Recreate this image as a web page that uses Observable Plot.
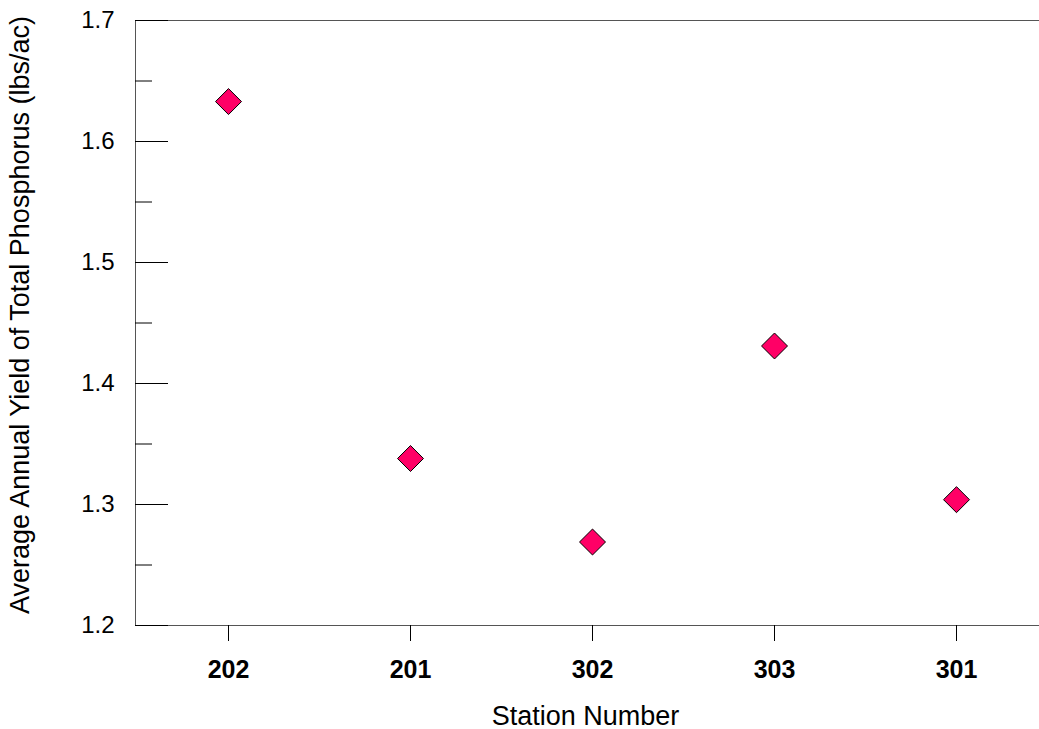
<!DOCTYPE html>
<html>
<head>
<meta charset="utf-8">
<script src="https://cdn.jsdelivr.net/npm/d3@7"></script>
<script src="https://cdn.jsdelivr.net/npm/@observablehq/plot@0.6"></script>
<style>
  html, body { margin: 0; padding: 0; background: #fff; }
</style>
</head>
<body>
<div id="chart"></div>
<script>
// Average annual total phosphorus yield by monitoring station
const stations = ["202", "201", "302", "303", "301"];
const yields = [1.633, 1.338, 1.269, 1.431, 1.304];
const majorTicks = [1.2, 1.3, 1.4, 1.5, 1.6, 1.7];
const minorTicks = [1.25, 1.35, 1.45, 1.55, 1.65];
const xTitle = "Station Number";
const yTitle = "Average Annual Yield of Total Phosphorus (lbs/ac)";

const rows = stations.map((s, i) => ({station: s, tp: yields[i]}));

const chart = Plot.plot({
  width: 1039,
  height: 729,
  marginTop: 20,
  marginBottom: 104,
  marginLeft: 135,
  marginRight: -10,
  style: {
    fontFamily: "'Liberation Sans', Arial, Helvetica, sans-serif",
    fontSize: "24px",
    color: "#000",
    background: "#fff"
  },
  x: {type: "point", domain: stations, padding: 0.5},
  y: {domain: [1.2, 1.7]},
  marks: [
    Plot.frame({stroke: "#555", strokeWidth: 1}),
    // inward major and minor ticks on the value axis
    Plot.axisY({ticks: majorTicks, tickSize: -33, tickFormat: () => "", label: null, stroke: "#000"}),
    Plot.axisY({ticks: minorTicks, tickSize: -17, tickFormat: () => "", label: null, stroke: "#000"}),
    Plot.axisY({ticks: majorTicks, tickSize: 0, tickPadding: 21, tickFormat: d3.format(".1f"), label: null, fontSize: 24}),
    // station axis with outward ticks
    Plot.axisX({tickSize: 16, tickPadding: 19, label: null, fontSize: 25, fontWeight: "bold", stroke: "#000"}),
    Plot.text([xTitle], {frameAnchor: "bottom", dx: -7, dy: 99, fontSize: 27, fill: "#000"}),
    Plot.text([yTitle], {frameAnchor: "left", textAnchor: "middle", rotate: -90, dx: -115, dy: -8, fontSize: 27, fill: "#000"}),
    Plot.dot(rows, {x: "station", y: "tp", symbol: "diamond2", r: 11.7, fill: "#ff0066", stroke: "#000", strokeWidth: 1})
  ]
});

document.getElementById("chart").append(chart);
</script>
</body>
</html>
